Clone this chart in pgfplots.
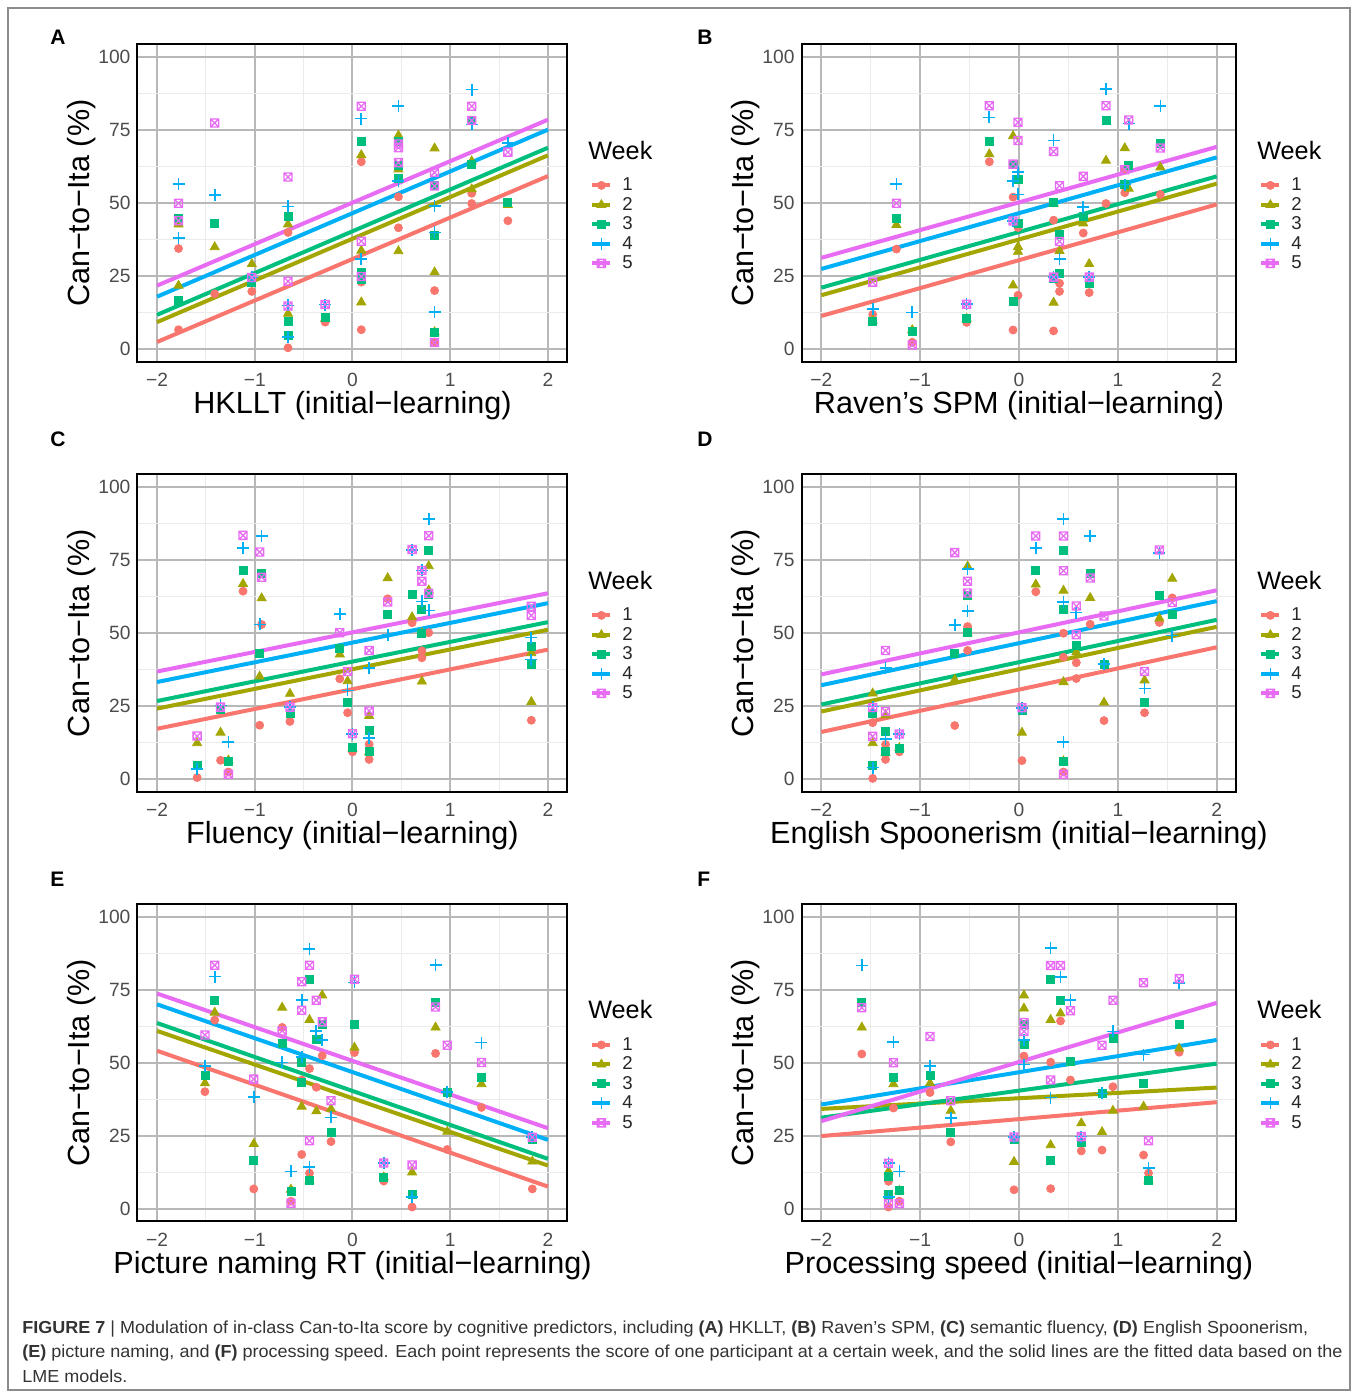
\documentclass[border=0pt]{standalone}
\usepackage{pgfplots}
\pgfplotsset{compat=1.18}
\usepackage{fontspec}
\setmainfont{Liberation Sans}
\setsansfont{Liberation Sans}
\newfontfamily\capfont[FakeStretch=1.035]{Liberation Sans}
\definecolor{c1}{HTML}{F8766D}
\definecolor{c2}{HTML}{A3A500}
\definecolor{c3}{HTML}{00BF7D}
\definecolor{c4}{HTML}{00B0F6}
\definecolor{c5}{HTML}{E76BF3}
\pgfdeclareplotmark{boxx}{%
  \pgfpathrectangle{\pgfpoint{-\pgfplotmarksize}{-\pgfplotmarksize}}{\pgfpoint{2\pgfplotmarksize}{2\pgfplotmarksize}}%
  \pgfpathmoveto{\pgfpoint{-\pgfplotmarksize}{-\pgfplotmarksize}}\pgfpathlineto{\pgfpoint{\pgfplotmarksize}{\pgfplotmarksize}}%
  \pgfpathmoveto{\pgfpoint{-\pgfplotmarksize}{\pgfplotmarksize}}\pgfpathlineto{\pgfpoint{\pgfplotmarksize}{-\pgfplotmarksize}}%
  \pgfusepathqstroke}
\pgfdeclareplotmark{pluss}{%
  \pgfpathmoveto{\pgfpoint{-\pgfplotmarksize}{0pt}}\pgfpathlineto{\pgfpoint{\pgfplotmarksize}{0pt}}%
  \pgfpathmoveto{\pgfpoint{0pt}{-\pgfplotmarksize}}\pgfpathlineto{\pgfpoint{0pt}{\pgfplotmarksize}}%
  \pgfusepathqstroke}
\pgfplotsset{
  panel/.style={
    scale only axis, height=158.75pt, clip=false,
    xmin=-2.2, xmax=2.2, ymin=-4.35, ymax=104.35,
    xtick={-2,-1,0,1,2}, xticklabels={−2,−1,0,1,2},
    ytick={0,25,50,75,100}, yticklabels={0,25,50,75,100},
    minor xtick={-1.5,-0.5,0.5,1.5}, minor ytick={12.5,37.5,62.5,87.5},
    grid=both,
    major grid style={draw=black!28, line width=1pt},
    minor grid style={draw=black!8, line width=0.5pt},
    axis line style={black, line width=1pt},
    major tick length=0pt, minor tick length=0pt, tick style={draw=none},
    /pgf/number format/assume math mode=true,
    tick label style={font=\fontsize{9.6}{11}\selectfont, text=black!70},
    xticklabel style={yshift=-2.2pt},
    label style={font=\fontsize{15.3}{17}\selectfont},
    ylabel={Can−to−Ita (\%)},
    xlabel style={at={(axis description cs:0.5,0)}, anchor=base, yshift=-26pt},
    legend style={at={(axis description cs:1,0.5)}, anchor=north west, xshift=11.25pt, yshift=14pt,
      draw=none, fill=none, inner sep=0pt, row sep=0pt, column sep=5pt,
      font=\fontsize{9.3}{10}\selectfont,
      nodes={inner sep=0pt, text height=7.5pt, text depth=2.25pt, text=black!85}},
    legend cell align=left,
    legend image code/.code={\draw[##1, mark repeat=2, mark phase=2] plot coordinates {(0pt,0pt)(4.5pt,0pt)(9pt,0pt)};},
  },
  w1/.style={only marks, mark=*, mark size=2pt, color=c1, forget plot},
  w2/.style={only marks, mark=triangle*, mark size=2.6pt, color=c2, forget plot},
  w3/.style={only marks, mark=square*, mark size=2pt, color=c3, forget plot},
  w4/.style={only marks, mark=pluss, mark size=3pt, color=c4, mark options={draw=c4, line width=0.85pt}, forget plot},
  w5/.style={only marks, mark=boxx, mark size=2pt, color=c5, mark options={draw=c5, line width=0.65pt}, forget plot},
  l1/.style={c1, line width=2pt, no marks, forget plot},
  l2/.style={c2, line width=2pt, no marks, forget plot},
  l3/.style={c3, line width=2pt, no marks, forget plot},
  l4/.style={c4, line width=2pt, no marks, forget plot},
  l5/.style={c5, line width=2pt, no marks, forget plot},
}
\newcommand{\weeklegend}{%
  \addlegendimage{c1, line width=2pt, mark=*, mark size=2pt, mark options={line width=0.4pt}}
  \addlegendimage{c2, line width=2pt, mark=triangle*, mark size=2.6pt, mark options={line width=0.4pt}}
  \addlegendimage{c3, line width=2pt, mark=square*, mark size=2pt, mark options={line width=0.4pt}}
  \addlegendimage{c4, line width=2pt, mark=pluss, mark size=3pt, mark options={draw=c4, line width=0.85pt}}
  \addlegendimage{c5, line width=2pt, mark=boxx, mark size=2pt, mark options={draw=c5, line width=0.65pt}}
  \legend{1,2,3,4,5}
  \node[anchor=base west, inner sep=0pt, xshift=10.25pt, yshift=22pt, font=\fontsize{12.6}{14}\selectfont] at (axis description cs:1,0.5) {Week};
}
\begin{document}
\begin{tikzpicture}
\path[use as bounding box] (0pt,0pt) rectangle (679pt,697pt);
\draw[black!45, line width=0.6pt] (4pt,2pt) rectangle (675pt,693pt);
% ---------------- A
\begin{axis}[panel, at={(68.75pt,516pt)}, anchor=south west, width=215pt,
  xlabel={HKLLT (initial−learning)}, ylabel style={at={(axis description cs:-0.1116,0.5)}, anchor=base}]
\weeklegend
\addplot[w1] coordinates {(-1.78,34.5)(-1.78,6.7)(-1.41,19)(-1.03,19.8)(-0.66,40)(-0.66,0.5)(-0.28,9.3)(0.09,64.2)(0.09,23)(0.09,6.7)(0.47,52.2)(0.47,41.6)(0.84,20.1)(0.84,2.5)(1.22,53.4)(1.22,49.9)(1.59,44)};
\addplot[w2] coordinates {(-1.78,42.8)(-1.78,21.8)(-1.41,35)(-1.03,29.2)(-0.66,42.8)(-0.66,12.2)(-0.28,10.5)(0.09,66.5)(0.09,33.8)(0.09,16.1)(0.47,73.2)(0.47,61.6)(0.47,33.6)(0.84,68.8)(0.84,26.4)(0.84,5.9)(1.22,64.4)(1.22,54.8)(1.59,49.4)};
\addplot[w3] coordinates {(-1.78,44.8)(-1.78,16.7)(-1.41,43)(-1.03,23)(-0.66,45.5)(-0.66,9.5)(-0.66,4.8)(-0.28,10.8)(0.09,71.3)(0.09,26.4)(0.09,24)(0.47,71.3)(0.47,63)(0.47,58.4)(0.84,56.1)(0.84,39.1)(0.84,5.9)(1.22,78.3)(1.22,63.2)(1.59,50.2)};
\addplot[w4] coordinates {(-1.78,56.5)(-1.78,38)(-1.41,52.8)(-1.03,24.6)(-0.66,48.9)(-0.66,15)(-0.66,4.2)(-0.28,15.3)(0.09,79)(0.09,31)(0.47,83.2)(0.47,57.6)(0.84,49)(0.84,40)(0.84,12.7)(1.22,88.9)(1.22,77)(1.59,70.7)};
\addplot[w5] coordinates {(-1.78,50)(-1.78,44)(-1.41,77.5)(-1.03,24.6)(-0.66,59)(-0.66,23.3)(-0.66,14.8)(-0.28,15.3)(0.09,83.2)(0.09,37)(0.09,24.9)(0.47,70.3)(0.47,69)(0.47,63.9)(0.84,60.5)(0.84,55.9)(0.84,2.3)(1.22,83.2)(1.22,78.3)(1.59,67.5)};
\addplot[l1] coordinates {(-2,2.5)(2,59.3)};
\addplot[l2] coordinates {(-2,9.3)(2,66.4)};
\addplot[l3] coordinates {(-2,11.8)(2,69)};
\addplot[l4] coordinates {(-2,18)(2,75.2)};
\addplot[l5] coordinates {(-2,21.8)(2,78.6)};
\end{axis}
% ---------------- B
\begin{axis}[panel, at={(400.75pt,516pt)}, anchor=south west, width=217.5pt,
  xlabel={Raven’s SPM (initial−learning)}, ylabel style={at={(axis description cs:-0.1103,0.5)}, anchor=base}]
\weeklegend
\addplot[w1] coordinates {(-1.48,11.9)(-1.24,34.3)(-1.08,2.4)(-0.53,9.2)(-0.30,64.2)(-0.06,52.1)(-0.06,6.6)(-0.01,41.7)(-0.01,18.5)(0.35,44.2)(0.35,6.3)(0.41,22.6)(0.41,19.8)(0.65,39.8)(0.71,19.4)(0.88,49.9)(1.07,61.7)(1.07,53.6)(1.43,53)};
\addplot[w2] coordinates {(-1.48,9.8)(-1.24,42.6)(-1.08,6.6)(-0.53,10.5)(-0.30,66.8)(-0.06,73)(-0.06,21.9)(-0.01,35.1)(-0.01,33.4)(0.35,49.9)(0.35,16)(0.41,33.7)(0.65,43.1)(0.71,29.2)(0.88,64.6)(1.07,68.9)(1.11,55)(1.43,62.3)};
\addplot[w3] coordinates {(-1.48,9.4)(-1.24,44.7)(-1.08,6)(-0.53,10.5)(-0.30,71.3)(-0.06,63.2)(-0.06,16.4)(-0.01,58.1)(-0.01,43)(0.35,50.2)(0.35,24.1)(0.41,39.4)(0.41,26)(0.65,45.6)(0.71,22.4)(0.88,78.4)(1.11,63)(1.07,56.5)(1.43,70.6)};
\addplot[w4] coordinates {(-1.48,13.9)(-1.24,56.7)(-1.08,12.6)(-0.53,15.4)(-0.30,79.4)(-0.06,57.5)(-0.01,60.6)(-0.01,53)(0.35,71.5)(0.35,24.7)(0.41,30.9)(0.65,48.7)(0.71,24.7)(0.88,89)(1.07,56.4)(1.11,77.3)(1.43,83.4)(-0.06,44)};
\addplot[w5] coordinates {(-1.48,23)(-1.24,50)(-1.08,1.5)(-0.53,15.4)(-0.30,83.4)(-0.06,63.4)(-0.06,43.9)(-0.01,77.7)(-0.01,71.5)(0.35,67.7)(0.35,24.7)(0.41,56)(0.41,36.9)(0.65,59.2)(0.71,24.7)(0.88,83.4)(1.07,61.5)(1.11,78.5)(1.43,68.9)};
\addplot[l1] coordinates {(-2,11.4)(2,49.6)};
\addplot[l2] coordinates {(-2,18.5)(2,56.7)};
\addplot[l3] coordinates {(-2,21.1)(2,59.2)};
\addplot[l4] coordinates {(-2,27.5)(2,65.7)};
\addplot[l5] coordinates {(-2,31.3)(2,69.3)};
\end{axis}
% ---------------- C
\begin{axis}[panel, at={(68.75pt,301pt)}, anchor=south west, width=215pt,
  xlabel={Fluency (initial−learning)}, ylabel style={at={(axis description cs:-0.1116,0.5)}, anchor=base}]
\weeklegend
\addplot[w1] coordinates {(-1.59,0.6)(-1.35,6.5)(-1.27,2.5)(-1.12,64.4)(-0.93,53)(-0.95,18.5)(-0.64,19.8)(-0.13,34.4)(-0.05,22.8)(0,9.4)(0.17,12)(0.17,6.8)(0.36,61.8)(0.61,53.6)(0.71,41.6)(0.71,44)(0.78,50.2)(1.83,39.9)(1.83,20.2)};
\addplot[w2] coordinates {(-1.59,12.4)(-1.35,16)(-1.27,6.5)(-1.12,66.9)(-0.93,62)(-0.95,35.2)(-0.64,29.3)(-0.13,42.8)(-0.05,33.6)(0,10.5)(0.17,21.7)(0.17,9.3)(0.36,68.9)(0.61,55.5)(0.71,33.5)(0.71,50)(0.78,73)(0.78,64.7)(1.83,43.2)(1.83,26.5)};
\addplot[w3] coordinates {(-1.59,4.8)(-1.35,23.8)(-1.27,6.2)(-1.12,71.5)(-0.93,70.6)(-0.95,43.2)(-0.64,22.5)(-0.13,44.7)(-0.05,26.2)(0,10.8)(0.17,16.8)(0.17,9.6)(0.36,56.3)(0.61,63.2)(0.71,58.2)(0.71,50)(0.78,78.3)(0.78,63.2)(1.83,45.6)(1.83,39.3)};
\addplot[w4] coordinates {(-1.59,3.5)(-1.35,25.3)(-1.27,12.8)(-1.12,79.2)(-0.93,83.2)(-0.95,53)(-0.64,24.7)(-0.13,56.7)(-0.05,30.4)(0,15.6)(0.17,38.1)(0.17,14.1)(0.36,49.5)(0.61,78.4)(0.71,71.5)(0.71,60.9)(0.78,89)(0.78,57.8)(1.83,48.5)(1.83,41)};
\addplot[w5] coordinates {(-1.59,14.8)(-1.35,24.7)(-1.27,1.7)(-1.12,83.5)(-0.95,77.8)(-0.93,69.2)(-0.64,24.7)(-0.13,50.2)(-0.05,36.9)(0,15.6)(0.17,44.1)(0.17,23.4)(0.36,60.7)(0.61,78.7)(0.71,71.5)(0.71,67.8)(0.78,83.4)(0.78,63.7)(1.83,59.2)(1.83,56.1)};
\addplot[l1] coordinates {(-2,17.3)(2,44.4)};
\addplot[l2] coordinates {(-2,24.2)(2,51.2)};
\addplot[l3] coordinates {(-2,26.8)(2,53.8)};
\addplot[l4] coordinates {(-2,33.3)(2,60.3)};
\addplot[l5] coordinates {(-2,36.9)(2,63.7)};
\end{axis}
% ---------------- D
\begin{axis}[panel, at={(400.75pt,301pt)}, anchor=south west, width=217.5pt,
  xlabel={English Spoonerism (initial−learning)}, ylabel style={at={(axis description cs:-0.1103,0.5)}, anchor=base}]
\weeklegend
\addplot[w1] coordinates {(-1.48,19.4)(-1.48,0.3)(-1.35,11.9)(-1.35,6.8)(-1.21,9.4)(-0.65,18.4)(-0.52,52.3)(-0.52,44.1)(0.03,6.4)(0.17,64.2)(0.45,50)(0.45,41.8)(0.45,2.5)(0.58,39.9)(0.58,34.5)(0.72,53.1)(0.86,20.1)(1.27,22.8)(1.42,53.7)(1.55,62.1)};
\addplot[w2] coordinates {(-1.48,29.4)(-1.48,12.4)(-1.35,22)(-1.35,9)(-1.21,10.7)(-0.65,34.1)(-0.52,72.9)(-0.52,50)(0.03,16)(0.17,66.7)(0.45,64.6)(0.45,33.3)(0.45,6.2)(0.58,43.5)(0.72,62.1)(0.86,26.3)(1.27,33.9)(1.42,55.1)(1.55,68.7)};
\addplot[w3] coordinates {(-1.48,22.6)(-1.48,4.7)(-1.35,16.4)(-1.35,9.4)(-1.21,10.7)(-0.65,43.2)(-0.52,62.9)(-0.52,50.3)(0.03,23.7)(0.17,71.4)(0.45,78.3)(0.45,58.2)(0.45,6.2)(0.58,45.8)(0.72,70.6)(0.86,39.5)(1.27,26.2)(1.42,63)(1.55,56.3)};
\addplot[w4] coordinates {(-1.48,24.9)(-1.48,4)(-1.35,38.2)(-1.35,13.9)(-1.21,15.5)(-0.65,52.9)(-0.52,57.6)(-0.52,72)(0.03,24.5)(0.17,79.1)(0.45,89)(0.45,60.8)(0.45,12.7)(0.58,57.1)(0.72,83.3)(0.86,39.5)(1.27,31.1)(1.42,77.4)(1.55,49.2)};
\addplot[w5] coordinates {(-1.48,24.6)(-1.48,14.7)(-1.35,44.1)(-1.35,23.2)(-1.21,15.5)(-0.65,77.6)(-0.52,67.8)(-0.52,63.8)(0.03,24.5)(0.17,83.3)(0.45,83.3)(0.45,71.4)(0.45,1.7)(0.58,59.3)(0.58,49.5)(0.72,68.9)(0.86,55.9)(1.27,36.9)(1.42,78.5)(1.55,60.5)};
\addplot[l1] coordinates {(-2,16.2)(2,45.2)};
\addplot[l2] coordinates {(-2,23.2)(2,52.2)};
\addplot[l3] coordinates {(-2,25.6)(2,54.6)};
\addplot[l4] coordinates {(-2,32.2)(2,61)};
\addplot[l5] coordinates {(-2,35.9)(2,64.7)};
\end{axis}
% ---------------- E
\begin{axis}[panel, at={(68.75pt,86.25pt)}, anchor=south west, width=215pt,
  xlabel={Picture naming RT (initial−learning)}, ylabel style={at={(axis description cs:-0.1116,0.5)}, anchor=base}]
\weeklegend
\addplot[w1] coordinates {(-1.51,40.1)(-1.41,64.6)(-1.01,6.8)(-0.72,62.1)(-0.63,2.6)(-0.52,44.1)(-0.52,18.6)(-0.44,12.2)(-0.37,41.6)(-0.31,52.4)(-0.22,23)(0.02,53.5)(0.32,9.5)(0.61,0.6)(0.85,53.2)(0.97,20.3)(1.32,34.7)(1.84,6.8)(-0.44,48)};
\addplot[w2] coordinates {(-1.51,43)(-1.41,67.2)(-1.01,22.2)(-0.72,68.9)(-0.63,6.6)(-0.52,35)(-0.52,50)(-0.44,64.7)(-0.44,9.7)(-0.37,33.4)(-0.31,73.1)(-0.22,34.2)(0.02,55.2)(0.32,10.8)(0.61,12.5)(0.85,62.1)(0.97,26.4)(1.32,42.7)(1.84,16.2)};
\addplot[w3] coordinates {(-1.51,45.8)(-1.41,71.4)(-1.01,16.7)(-0.72,56.6)(-0.63,6)(-0.52,43.3)(-0.52,50)(-0.44,78.4)(-0.44,9.7)(-0.37,58.1)(-0.31,63.2)(-0.22,26.2)(0.02,63.2)(0.32,10.8)(0.61,4.9)(0.85,70.6)(0.97,39.9)(1.32,45)(1.84,23.9)};
\addplot[w4] coordinates {(-1.51,49)(-1.41,79.5)(-1.01,38.2)(-0.72,50.1)(-0.63,12.8)(-0.52,71.5)(-0.52,52)(-0.44,89)(-0.44,14.2)(-0.37,60.9)(-0.31,57.9)(-0.22,31.3)(0.02,77.5)(0.32,15.7)(0.61,4)(0.85,83.4)(0.97,39.9)(1.32,56.9)(1.84,24.5)};
\addplot[w5] coordinates {(-1.51,59.5)(-1.41,83.4)(-1.01,44.4)(-0.72,60.9)(-0.63,1.9)(-0.52,77.7)(-0.52,68)(-0.44,83.4)(-0.44,23.3)(-0.37,71.4)(-0.31,64)(-0.22,37)(0.02,78.6)(0.32,15.7)(0.61,15)(0.85,69.1)(0.97,56)(1.32,50.1)(1.84,24.5)};
\addplot[l1] coordinates {(-2,54.1)(2,7.6)};
\addplot[l2] coordinates {(-2,60.9)(2,14.8)};
\addplot[l3] coordinates {(-2,63.6)(2,17.1)};
\addplot[l4] coordinates {(-2,70)(2,23.6)};
\addplot[l5] coordinates {(-2,73.7)(2,27.6)};
\end{axis}
% ---------------- F
\begin{axis}[panel, at={(400.75pt,86.25pt)}, anchor=south west, width=217.5pt,
  xlabel={Processing speed (initial−learning)}, ylabel style={at={(axis description cs:-0.1103,0.5)}, anchor=base}]
\weeklegend
\addplot[w1] coordinates {(-1.59,53)(-1.32,9.4)(-1.32,0.6)(-1.27,34.5)(-1.21,2.6)(-0.9,39.8)(-0.69,22.9)(-0.05,6.5)(0.05,52.3)(0.32,50.2)(0.32,6.9)(0.42,64.3)(0.52,44.1)(0.63,19.8)(0.84,20.1)(0.95,41.8)(1.26,18.4)(1.31,12.2)(1.62,53.6)};
\addplot[w2] coordinates {(-1.59,62.1)(-1.32,12.8)(-1.27,42.7)(-1.21,6.2)(-0.9,43)(-0.69,33.6)(-0.05,16.1)(0.05,73.1)(0.05,68.6)(0.32,64.7)(0.32,21.8)(0.42,66.9)(0.52,50)(0.63,29.3)(0.84,26.3)(0.95,33.6)(1.26,35)(1.31,9.7)(1.62,54.9)};
\addplot[w3] coordinates {(-1.59,70.7)(-1.32,11.1)(-1.32,4.9)(-1.27,44.9)(-1.21,6.2)(-0.9,45.7)(-0.69,26.3)(-0.05,23.8)(0.05,63)(0.05,56.4)(0.32,78.4)(0.32,16.7)(0.42,71.4)(0.52,50.6)(0.63,22.6)(0.84,39.5)(0.95,58.2)(1.26,43)(1.31,9.7)(1.62,63.2)};
\addplot[w4] coordinates {(-1.59,83.3)(-1.32,15.6)(-1.32,4)(-1.27,57)(-1.21,12.8)(-0.9,48.9)(-0.69,31)(-0.05,24.6)(0.05,57.7)(0.05,49.4)(0.32,89.2)(0.32,38.1)(0.42,79.3)(0.52,71.4)(0.63,24.7)(0.84,39.5)(0.95,60.7)(1.26,52.8)(1.31,13.9)(1.62,77.4)};
\addplot[w5] coordinates {(-1.59,68.8)(-1.32,15.6)(-1.32,1.7)(-1.27,50)(-1.21,1.7)(-0.9,59)(-0.69,37)(-0.05,24.6)(0.05,63.8)(0.05,60.7)(0.32,83.3)(0.32,44.1)(0.42,83.3)(0.52,67.8)(0.63,24.7)(0.84,56)(0.95,71.4)(1.26,77.4)(1.31,23.3)(1.62,78.8)};
\addplot[l1] coordinates {(-2,24.9)(2,36.5)};
\addplot[l2] coordinates {(-2,34.2)(2,41.5)};
\addplot[l3] coordinates {(-2,31.2)(2,49.7)};
\addplot[l4] coordinates {(-2,35.7)(2,57.8)};
\addplot[l5] coordinates {(-2,30)(2,70.5)};
\end{axis}
% panel letters
\begin{scope}[every node/.style={anchor=base west, inner sep=0pt, font=\fontsize{10.5}{12}\selectfont\bfseries}]
\node at (25pt,674.75pt) {A};
\node at (348.5pt,674.75pt) {B};
\node at (25pt,473.75pt) {C};
\node at (348.5pt,473.75pt) {D};
\node at (25pt,253.75pt) {E};
\node at (348.5pt,253.75pt) {F};
\end{scope}
% caption
\begin{scope}[every node/.style={anchor=base west, inner sep=0pt, font=\capfont\fontsize{8.7}{10}\selectfont, text=black!80}]
\node at (11pt,30.5pt) {\textbf{FIGURE 7} | Modulation of in-class Can-to-Ita score by cognitive predictors, including \textbf{(A)} HKLLT, \textbf{(B)} Raven’s SPM, \textbf{(C)} semantic fluency, \textbf{(D)} English Spoonerism,};
\node at (11pt,18pt) {\textbf{(E)} picture naming, and \textbf{(F)} processing speed. Each point represents the score of one participant at a certain week, and the solid lines are the fitted data based on the};
\node at (11pt,5.5pt) {LME models.};
\end{scope}
\end{tikzpicture}
\end{document}
